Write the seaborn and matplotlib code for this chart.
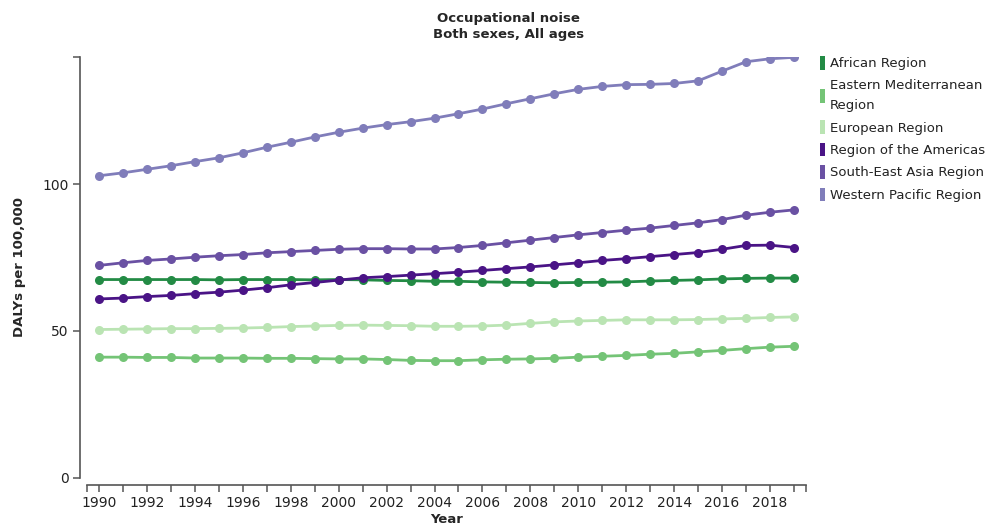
import matplotlib
matplotlib.use("Agg")
import matplotlib.pyplot as plt
import seaborn as sns
import pandas as pd
from matplotlib.patches import Patch

years = list(range(1990, 2020))

african = [67.5, 67.5, 67.5, 67.5, 67.5, 67.4, 67.5, 67.5, 67.5, 67.4, 67.5, 67.4, 67.2, 67.1, 66.9,
           66.9, 66.7, 66.6, 66.5, 66.4, 66.5, 66.6, 66.7, 67.0, 67.2, 67.4, 67.7, 67.9, 68.0, 68.0]
eastern_med = [41.1, 41.1, 41.0, 41.0, 40.8, 40.8, 40.8, 40.7, 40.7, 40.6, 40.5, 40.5, 40.3, 40.0, 39.9,
               39.9, 40.2, 40.4, 40.5, 40.7, 41.1, 41.4, 41.7, 42.1, 42.4, 42.9, 43.4, 44.0, 44.5, 44.8]
european = [50.5, 50.6, 50.7, 50.8, 50.8, 50.9, 51.0, 51.2, 51.5, 51.7, 51.9, 52.0, 51.9, 51.8, 51.6,
            51.6, 51.7, 52.0, 52.6, 53.1, 53.4, 53.6, 53.8, 53.8, 53.8, 53.9, 54.1, 54.3, 54.6, 54.8]
americas = [60.9, 61.2, 61.7, 62.1, 62.7, 63.2, 63.9, 64.7, 65.7, 66.5, 67.3, 68.1, 68.5, 69.0, 69.5,
            70.0, 70.6, 71.2, 71.8, 72.5, 73.2, 74.0, 74.6, 75.3, 76.0, 76.7, 77.8, 79.1, 79.2, 78.4]
se_asia = [72.3, 73.2, 74.0, 74.5, 75.1, 75.6, 76.0, 76.6, 77.0, 77.4, 77.8, 78.0, 78.0, 77.9, 77.9,
           78.4, 79.1, 80.0, 80.9, 81.8, 82.7, 83.5, 84.3, 85.0, 85.9, 86.8, 87.9, 89.4, 90.4, 91.2]
western_pac = [102.8, 103.8, 105.0, 106.2, 107.6, 108.9, 110.6, 112.5, 114.2, 116.0, 117.6, 119.0, 120.2,
               121.2, 122.4, 123.9, 125.5, 127.3, 129.0, 130.7, 132.2, 133.2, 133.8, 133.9, 134.2,
               135.1, 138.4, 141.6, 142.6, 143.1]

regions = ["African Region", "Eastern Mediterranean Region", "European Region",
           "Region of the Americas", "South-East Asia Region", "Western Pacific Region"]
legend_labels = ["African Region", "Eastern Mediterranean\nRegion", "European Region",
                 "Region of the Americas", "South-East Asia Region", "Western Pacific Region"]
colors = ["#238b45", "#74c476", "#bae4b3", "#4a1486", "#6a51a3", "#807dba"]
series = [african, eastern_med, european, americas, se_asia, western_pac]

rows = []
for r, vals in zip(regions, series):
    for y, v in zip(years, vals):
        rows.append({"Year": y, "Region": r, "Value": v})
df = pd.DataFrame(rows)

sns.set_theme(style="white")
plt.rcParams["font.family"] = ["DejaVu Sans"]

fig = plt.figure(figsize=(10.03, 5.26), dpi=100)
ax = fig.add_axes([0.0867, 0.0913, 0.7169, 0.8003])

sns.lineplot(data=df, x="Year", y="Value", hue="Region", hue_order=regions,
             palette=dict(zip(regions, colors)), marker="o", markersize=6.5,
             markeredgewidth=0, linewidth=2, legend=False, ax=ax)

ax.set_xlim(1989.5, 2019.5)
ax.set_ylim(0, 143.2)

ax.set_xticks(years)
ax.set_xticklabels([str(y) if y % 2 == 0 else "" for y in years])
ax.set_xticks([1989.5, 2019.5], minor=True)
ax.set_yticks([0, 50, 100])
ax.set_yticks([143.2], minor=True)

for s in ["top", "right"]:
    ax.spines[s].set_visible(False)
ax.spines["left"].set_position(("outward", 5))
ax.spines["bottom"].set_position(("outward", 5))
for s in ["left", "bottom"]:
    ax.spines[s].set_color("#555555")
    ax.spines[s].set_linewidth(1.2)

ax.tick_params(axis="both", which="both", direction="out", length=5, width=1.1,
               color="#555555", labelsize=10, labelcolor="#222222", pad=3,
               left=True, bottom=True)

ax.set_xlabel("Year", fontsize=9.5, fontweight="bold")
ax.xaxis.set_label_coords(0.5, -0.0975)
ax.xaxis.label.set_va("center")
ax.set_ylabel("DALYs per 100,000", fontsize=9.5, fontweight="bold", labelpad=12)

fig.suptitle("Occupational noise\nBoth sexes, All ages", x=0.507, y=0.978,
             fontsize=9.5, fontweight="bold", linespacing=1.3)

handles = [Patch(facecolor=c, edgecolor="none") for c in colors]
leg = fig.legend(handles, legend_labels, loc="upper left", bbox_to_anchor=(0.818, 0.893),
                 frameon=False, fontsize=9.5, handlelength=0.35, handleheight=1.2,
                 handletextpad=0.35, labelspacing=0.62, borderaxespad=0, borderpad=0)
for t in leg.get_texts():
    t.set_linespacing(1.75)
    t.set_color("#222222")

fig.savefig("out.png", dpi=100)
